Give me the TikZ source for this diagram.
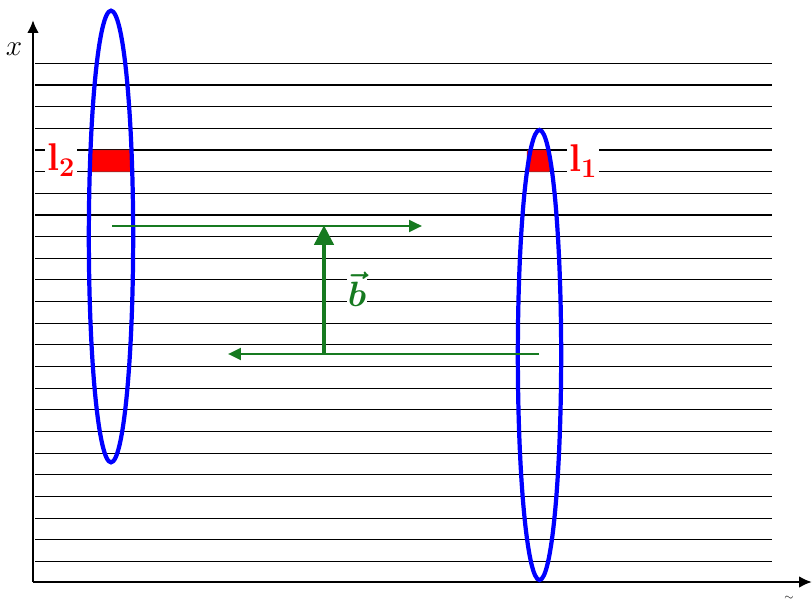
\RequirePackage{fix-cm}
\documentclass[tikz,border=0pt]{standalone}
\usepackage{amsmath}
\usepackage{amssymb}
\usepackage{xcolor}
\usepackage{tikz}
\usetikzlibrary{arrows.meta, shapes.geometric, calc}

\definecolor{fieldgreen}{RGB}{22,122,32}

\begin{document}
\begin{tikzpicture}[
  x=0.03cm, y=-0.03cm,
  axisline/.style  = {line width=2.4pt, -{Latex[length=11pt, width=10pt]}},
  gridline/.style  = {line width=1pt, black},
  loopring/.style  = {draw=blue, line width=3.6pt, ellipse, inner sep=0pt},
  cellbox/.style   = {draw=black!70, fill=red, line width=0.4pt,
                      rounded corners=1pt},
  cellname/.style  = {text=red, fill=white, inner sep=2pt,
                      font=\fontsize{33}{35}\selectfont\bfseries},
  flowline/.style  = {draw=fieldgreen, line width=2.4pt,
                      -{Triangle[length=11pt, width=10pt]}},
  shiftarrow/.style= {draw=fieldgreen, line width=4.2pt,
                      -{Triangle[length=17pt, width=16pt]}},
]
\useasboundingbox (0,0) rectangle (812,600);

%% ── grid of lines ───────────────────────────────────────────────────────────
\foreach \i in {0,...,23}
  \draw[gridline] (35,{63.3+21.66*\i}) -- (772,{63.3+21.66*\i});

%% ── axes ─────────────────────────────────────────────────────────────────────
\coordinate (origin) at (33,582);
\coordinate (xtip)   at (33,20);
\coordinate (ttip)   at (812,582);
\draw[axisline] (origin) -- (xtip);
\draw[axisline] (origin) -- (ttip);
\node[font=\fontsize{25}{27}\selectfont] (xlbl) at (14,49) {$x$};
\node[font=\normalsize] (tlbl) at (789,598) {$\sim$};

%% ── cells ────────────────────────────────────────────────────────────────────
\draw[cellbox] (90,150) rectangle (132,171.9);
\draw[cellbox] (527,150) rectangle (550,171.9);
\node[cellname] (ltwo) at (61,160) {l$_\mathbf{2}$};
\node[cellname] (lone) at (583,161) {l$_\mathbf{1}$};

%% ── loops ────────────────────────────────────────────────────────────────────
\node[loopring, minimum width=1.33cm, minimum height=13.55cm]
  (leftloop) at (111,236.5) {};
\node[loopring, minimum width=1.3cm, minimum height=13.5cm]
  (rightloop) at (539.5,355) {};

%% ── shift vector ─────────────────────────────────────────────────────────────
\coordinate (topstart) at (112,226);
\coordinate (topend)   at (422,226);
\coordinate (botstart) at (539,354);
\coordinate (botend)   at (228,354);
\coordinate (vbase)    at (324,354);
\coordinate (vhead)    at (324,225);
\draw[flowline] (topstart) -- (topend);
\draw[flowline] (botstart) -- (botend);
\draw[shiftarrow] (vbase) -- (vhead);
\node[text=fieldgreen, fill=white, inner sep=1pt,
      font=\fontsize{30}{32}\selectfont] (bvec) at (357,289)
  {$\boldsymbol{\vec{b}}$};

\end{tikzpicture}
\end{document}
